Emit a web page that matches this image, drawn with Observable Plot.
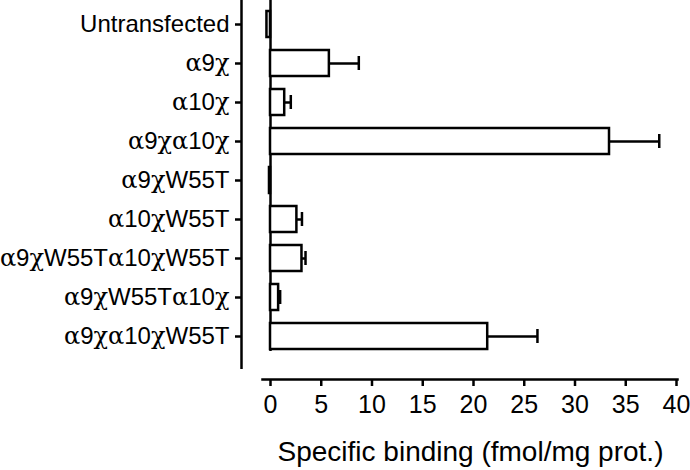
<!DOCTYPE html>
<html><head><meta charset="utf-8">
<script src="https://cdn.jsdelivr.net/npm/d3@7"></script>
<script src="https://cdn.jsdelivr.net/npm/@observablehq/plot@0.6"></script>
<style>body{margin:0;background:#fff}</style>
</head><body><div id="chart"></div>
<script>
const categories = ["Untransfected", "α9χ", "α10χ", "α9χα10χ", "α9χW55T", "α10χW55T", "α9χW55Tα10χW55T", "α9χW55Tα10χ", "α9χα10χW55T"];
const values = [-0.35, 5.8, 1.4, 33.4, -0.1, 2.6, 3.1, 0.8, 21.4];
const errors = [0, 2.9, 0.6, 4.9, 0, 0.5, 0.35, 0.15, 4.9];
const xTicks = [0, 5, 10, 15, 20, 25, 30, 35, 40];
const xLabel = ["Specific binding (fmol/mg prot.)"];

const data = categories.map((c, i) => ({cat: c, value: values[i], err: errors[i], hi: values[i] + errors[i]}));
const withErr = data.filter(d => d.err > 0);

const chart = Plot.plot({
  width: 690, height: 470,
  marginLeft: 270, marginRight: 14, marginTop: 0, marginBottom: 91,
  style: {fontFamily: "'Liberation Sans', Arial, sans-serif", fontSize: "24px", color: "#000", background: "#fff"},
  x: {domain: [0, 40], label: null},
  y: {domain: categories, range: [4.5, 355.5], paddingInner: 0.33, paddingOuter: 0.165, label: null},
  marks: [
    Plot.ruleX([0], {dx: -29, insetBottom: 10, stroke: "#000", strokeWidth: 2.5}),
    Plot.ruleX([0], {insetBottom: 28, stroke: "#000", strokeWidth: 2.5}),
    Plot.ruleY(withErr, {y: "cat", x1: "value", x2: "hi", stroke: "#000", strokeWidth: 2.5}),
    Plot.tickX(withErr, {y: "cat", x: "hi", insetTop: 6, insetBottom: 6, stroke: "#000", strokeWidth: 2.5}),
    Plot.barX(data, {y: "cat", x1: 0, x2: "value", fill: "#fff", stroke: "#000", strokeWidth: 2.5}),
    Plot.frame({anchor: "bottom", insetLeft: -8, insetRight: -1, stroke: "#000", strokeWidth: 2.5}),
    Plot.axisX({anchor: "bottom", ticks: xTicks, tickSize: 7, tickPadding: 9, strokeWidth: 2.5, label: null, fontSize: 25}),
    Plot.axisY({anchor: "left", dx: -29, tickSize: 6, tickPadding: 6, strokeWidth: 2.5, label: null, fontSize: 24}),
    Plot.text(xLabel, {frameAnchor: "bottom", lineAnchor: "middle", dy: 73, dx: -3, fontSize: 28})
  ]
});

// Greek letters in a serif (Symbol-like) face, as in the original
d3.select(chart).selectAll("text").each(function() {
  const t = d3.select(this);
  if (t.selectAll("tspan").size() > 0) return;
  const s = t.text();
  if (!/[α-ω]/.test(s)) return;
  t.text(null);
  const parts = s.match(/[α-ω]+|[^α-ω]+/g);
  for (const p of parts) {
    const sp = t.append("tspan").text(p);
    if (/[α-ω]/.test(p)) sp.attr("font-family", "'DejaVu Serif', 'Liberation Serif', serif").attr("font-size", "24px");
  }
});

document.getElementById("chart").append(chart);
</script>
</body></html>
